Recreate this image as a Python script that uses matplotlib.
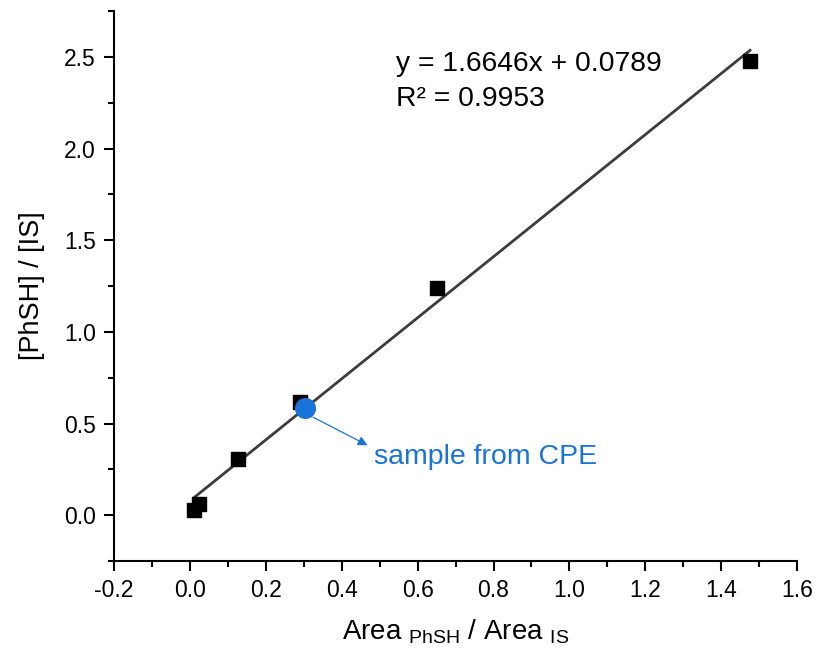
import numpy as np
import matplotlib
matplotlib.use("Agg")
import matplotlib.pyplot as plt
from matplotlib.ticker import MultipleLocator, FuncFormatter

plt.rcParams['font.family'] = ['Liberation Sans', 'DejaVu Sans']
plt.rcParams['mathtext.fontset'] = 'custom'
plt.rcParams['mathtext.rm'] = 'Liberation Sans'

# calibration points
area_ratio = [0.011, 0.024, 0.126, 0.290, 0.651, 1.476]
conc_ratio = [0.031, 0.060, 0.309, 0.617, 1.239, 2.478]

# sample from CPE
sample_x = [0.303]
sample_y = [0.584]

slope = 1.6646
intercept = 0.0789
r2 = 0.9953

fig = plt.figure(figsize=(8.15, 6.51), dpi=100)
ax = fig.add_axes([0.14, 0.138, 0.838, 0.845])

xfit = np.array([min(area_ratio), max(area_ratio)])
ax.plot(xfit, slope * xfit + intercept, color='#3c3c3c', lw=2.0, zorder=2)
ax.scatter(area_ratio, conc_ratio, marker='s', s=90, color='black', zorder=3)
ax.scatter(sample_x, sample_y, marker='o', s=200, color='#1a73d9', zorder=4)

# arrow from the sample point towards the label
ax.annotate('', xy=(0.468, 0.382), xytext=(0.3245, 0.535),
            arrowprops=dict(arrowstyle='-|>', color='#1a73d9', lw=0.9,
                            mutation_scale=14, shrinkA=0, shrinkB=0))
ax.text(0.485, 0.317, 'sample from CPE', color='#1a73d9', fontsize=20.5,
        va='center', ha='left')

ax.text(0.543, 2.53, f'y = {slope}x + {intercept}\nR² = {r2}',
        fontsize=20.3, va='top', ha='left', linespacing=1.45)

ax.set_xlim(-0.2, 1.6)
ax.set_ylim(-0.25, 2.75)
ax.xaxis.set_major_locator(MultipleLocator(0.2))
ax.xaxis.set_minor_locator(MultipleLocator(0.1))
ax.yaxis.set_major_locator(MultipleLocator(0.5))
ax.yaxis.set_minor_locator(MultipleLocator(0.25))
ax.xaxis.set_major_formatter(FuncFormatter(lambda v, p: f'{v:.1f}'))
ax.yaxis.set_major_formatter(FuncFormatter(lambda v, p: f'{v:.1f}'))

for s in ['top', 'right']:
    ax.spines[s].set_visible(False)
for s in ['left', 'bottom']:
    ax.spines[s].set_linewidth(1.5)

ax.tick_params(which='major', length=7, width=1.5, labelsize=16.5, pad=6)
ax.tick_params(which='minor', length=4, width=1.5)

ax.set_xlabel(r'Area $_{\mathregular{PhSH}}$ / Area $_{\mathregular{IS}}$', fontsize=20, labelpad=11)
ax.set_ylabel('[PhSH] / [IS]', fontsize=19.5, labelpad=14)

fig.savefig('out.png', dpi=100)
